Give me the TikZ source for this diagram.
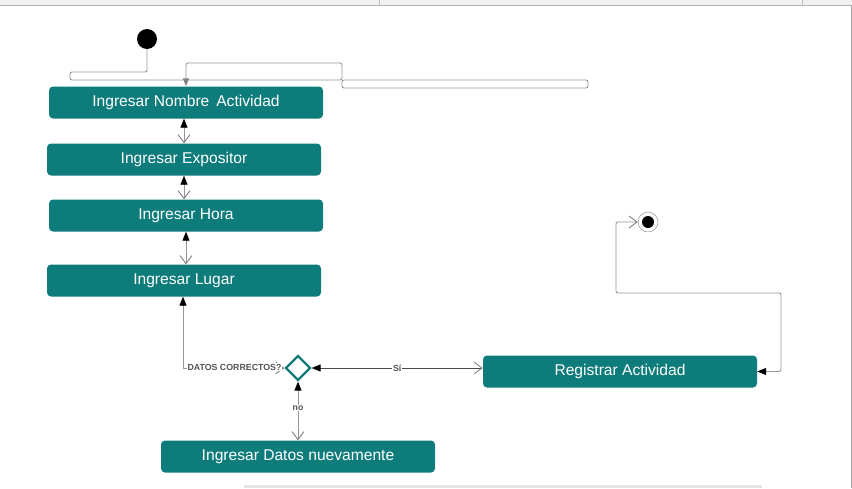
\documentclass[tikz,border=0pt]{standalone}
\usepackage{fontspec}
\setmainfont{Liberation Sans}
\usetikzlibrary{arrows.meta,shapes.geometric}
\definecolor{tealbox}{RGB}{14,124,123}
\definecolor{lgray}{RGB}{150,150,150}
\definecolor{labgray}{RGB}{85,85,85}
\tikzset{
  ftip/.tip={Triangle[length=9pt,width=7pt,color=black]},
  otip/.tip={Straight Barb[length=8pt,width=12pt,color=gray]},
  gtip/.tip={Triangle[length=8pt,width=6pt,color=gray]},
}
\begin{document}
\begin{tikzpicture}[x=1pt,y=-1pt,
  act/.style={fill=tealbox,rounded corners=4pt,minimum width=274pt,minimum height=32pt,
    text=white,font=\fontsize{15.6}{18}\selectfont,inner sep=0pt},
  conn/.style={draw=lgray,line width=0.9pt},
  lab/.style={font=\bfseries\fontsize{8.8}{10}\selectfont,text=labgray,fill=white,inner sep=1pt},
]
\useasboundingbox (0,0) rectangle (852,488);
% screen frame
\fill[gray!12] (0,0) rectangle (852,5);
\draw[gray!60] (0,5) -- (852,5);
\draw[gray!50] (379,0) -- (379,5) (802,0) -- (802,5);
\draw[gray!70] (851,5) -- (851,488);
\fill[gray!20] (244,485) rectangle (762,488);

% nodes
\node[circle,fill=black,minimum size=20pt,inner sep=0pt] (s) at (147,39) {};
\node[act] (n1) at (186,102.5) {Ingresar Nombre\ \,Actividad};
\node[act] (n2) at (184,159.5) {Ingresar Expositor};
\node[act] (n3) at (186,215.5) {Ingresar Hora};
\node[act] (n4) at (184,280.5) {Ingresar Lugar};
\node[act] (r) at (620,371.5) {Registrar Actividad};
\node[act] (n6) at (298,456.5) {Ingresar Datos nuevamente};
\node[diamond,draw=tealbox,line width=2.2pt,fill=white,minimum width=25pt,minimum height=25pt,inner sep=0pt] (d) at (298,368) {};
\node[circle,draw=gray,fill=white,minimum size=20pt,inner sep=0pt] (e) at (648,222) {};
\node[circle,fill=black,minimum size=12pt,inner sep=0pt] (ei) at (e.center) {};

% start connector
\coordinate (c1) at (342,80);
\draw[conn,rounded corners=2pt,-{gtip}] (s.south) |- (70,72) |- (c1) |- (186,63) -- (n1.north);
\draw[conn,rounded corners=2pt] (c1) rectangle (588,88);

% vertical chain
\draw[conn,{ftip}-{otip}] (n2.north |- n1.south) -- (n2.north);
\draw[conn,{ftip}-{otip}] (n2.south) -- (n2.south |- n3.north);
\draw[conn,{ftip}-{otip}] (n3.south) -- (n3.south |- n4.north);

% Lugar -> decision
\draw[conn,{ftip}-{otip}] ([xshift=-1pt]n4.south) |- (d.west);
\node[lab] (lq) at (234.5,367) {DATOS CORRECTOS?};

% decision <-> Registrar
\draw[conn,draw=black!70,{ftip}-{otip}] (d.east) -- node[lab,pos=0.5] (ls) {Sí} (d.east -| r.west);

% decision <-> Datos nuevamente
\draw[conn,{ftip}-{otip}] (d.south) -- node[lab,pos=0.45] (ln) {no} (d.south |- n6.north);

% Registrar -> end
\draw[conn,rounded corners=2pt,{ftip}-{otip}] (r.east) -| (781,293) -| (616,222) -- (e.west);
\end{tikzpicture}
\end{document}
